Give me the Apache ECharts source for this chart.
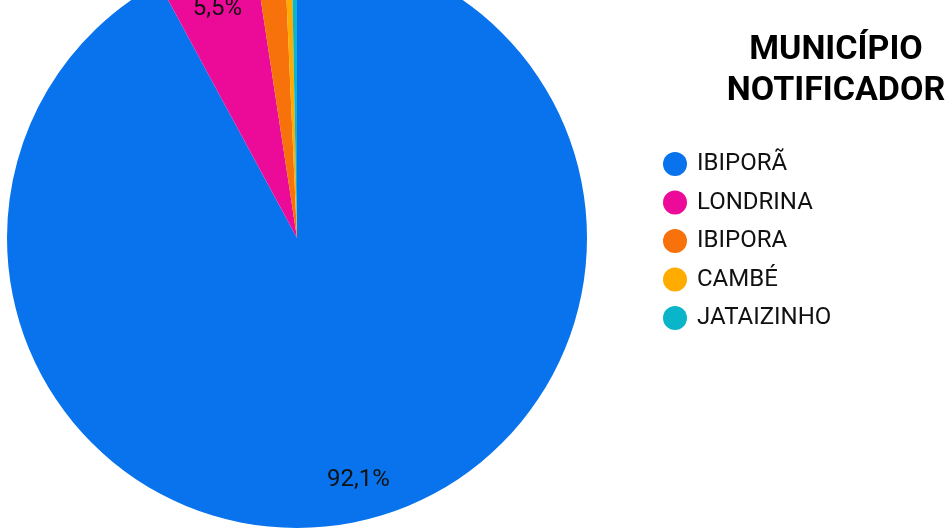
<!DOCTYPE html>
<html>
<head>
<meta charset="utf-8">
<script src="https://cdn.jsdelivr.net/npm/echarts@6/dist/echarts.min.js"></script>
<style>
html,body{margin:0;padding:0;background:#fff;}
#chart{width:952px;height:529px;}
</style>
</head>
<body>
<div id="chart"></div>
<script>
const categories = ['IBIPORÃ', 'LONDRINA', 'IBIPORA', 'CAMBÉ', 'JATAIZINHO'];
const values = [92.1, 5.5, 1.7, 0.4, 0.3];
const colors = ['#0873ec', '#ec0a98', '#f7720a', '#ffab00', '#0ab5c9'];
const titleText = 'MUNICÍPIO\nNOTIFICADOR';

const total = values.reduce((a, b) => a + b, 0);
const pieData = categories.map((c, i) => ({ name: c, value: values[i], itemStyle: { color: colors[i] } }));
const labelData = categories.map((c, i) => ({ name: c, value: values[i], itemStyle: { color: 'rgba(0,0,0,0)' } }));

const chart = echarts.init(document.getElementById('chart'), null, { renderer: 'canvas' });
chart.setOption({
  animation: false,
  backgroundColor: '#ffffff',
  graphic: [{
    type: 'text',
    x: 836,
    y: 30,
    style: {
      text: titleText,
      textAlign: 'center',
      fontFamily: 'Roboto',
      fontWeight: 'bold',
      fontSize: 34,
      lineHeight: 41,
      fill: '#000000'
    }
  }],
  legend: {
    orient: 'vertical',
    left: 658,
    top: 147,
    padding: 5,
    icon: 'circle',
    itemWidth: 24,
    itemHeight: 24,
    itemGap: 14.5,
    selectedMode: false,
    textStyle: { fontFamily: 'Roboto', fontSize: 24, color: '#111111', padding: [0, 0, 0, 5] },
    data: categories.map((c, i) => ({ name: c, itemStyle: { color: colors[i] } }))
  },
  series: [
    {
      type: 'pie',
      center: [297, 238],
      radius: [0, 290],
      startAngle: 90,
      clockwise: true,
      avoidLabelOverlap: false,
      label: { show: false },
      labelLine: { show: false },
      itemStyle: { borderWidth: 0 },
      emphasis: { disabled: true },
      data: pieData
    },
    {
      type: 'pie',
      center: [297, 238],
      radius: [204, 290],
      startAngle: 90,
      clockwise: true,
      silent: true,
      legendHoverLink: false,
      avoidLabelOverlap: false,
      labelLine: { show: false },
      emphasis: { disabled: true },
      label: {
        show: true,
        position: 'inside',
        fontFamily: 'Roboto',
        fontSize: 24,
        color: '#111111',
        formatter: function (p) {
          const pct = p.value / total * 100;
          return pct >= 5 ? pct.toFixed(1).replace('.', ',') + '%' : '';
        }
      },
      labelLayout: function (p) {
        const r = p.labelRect;
        if (r && r.y < -3) {
          return { dy: -3 - r.y };
        }
        return {};
      },
      data: labelData
    }
  ]
});
</script>
</body>
</html>
